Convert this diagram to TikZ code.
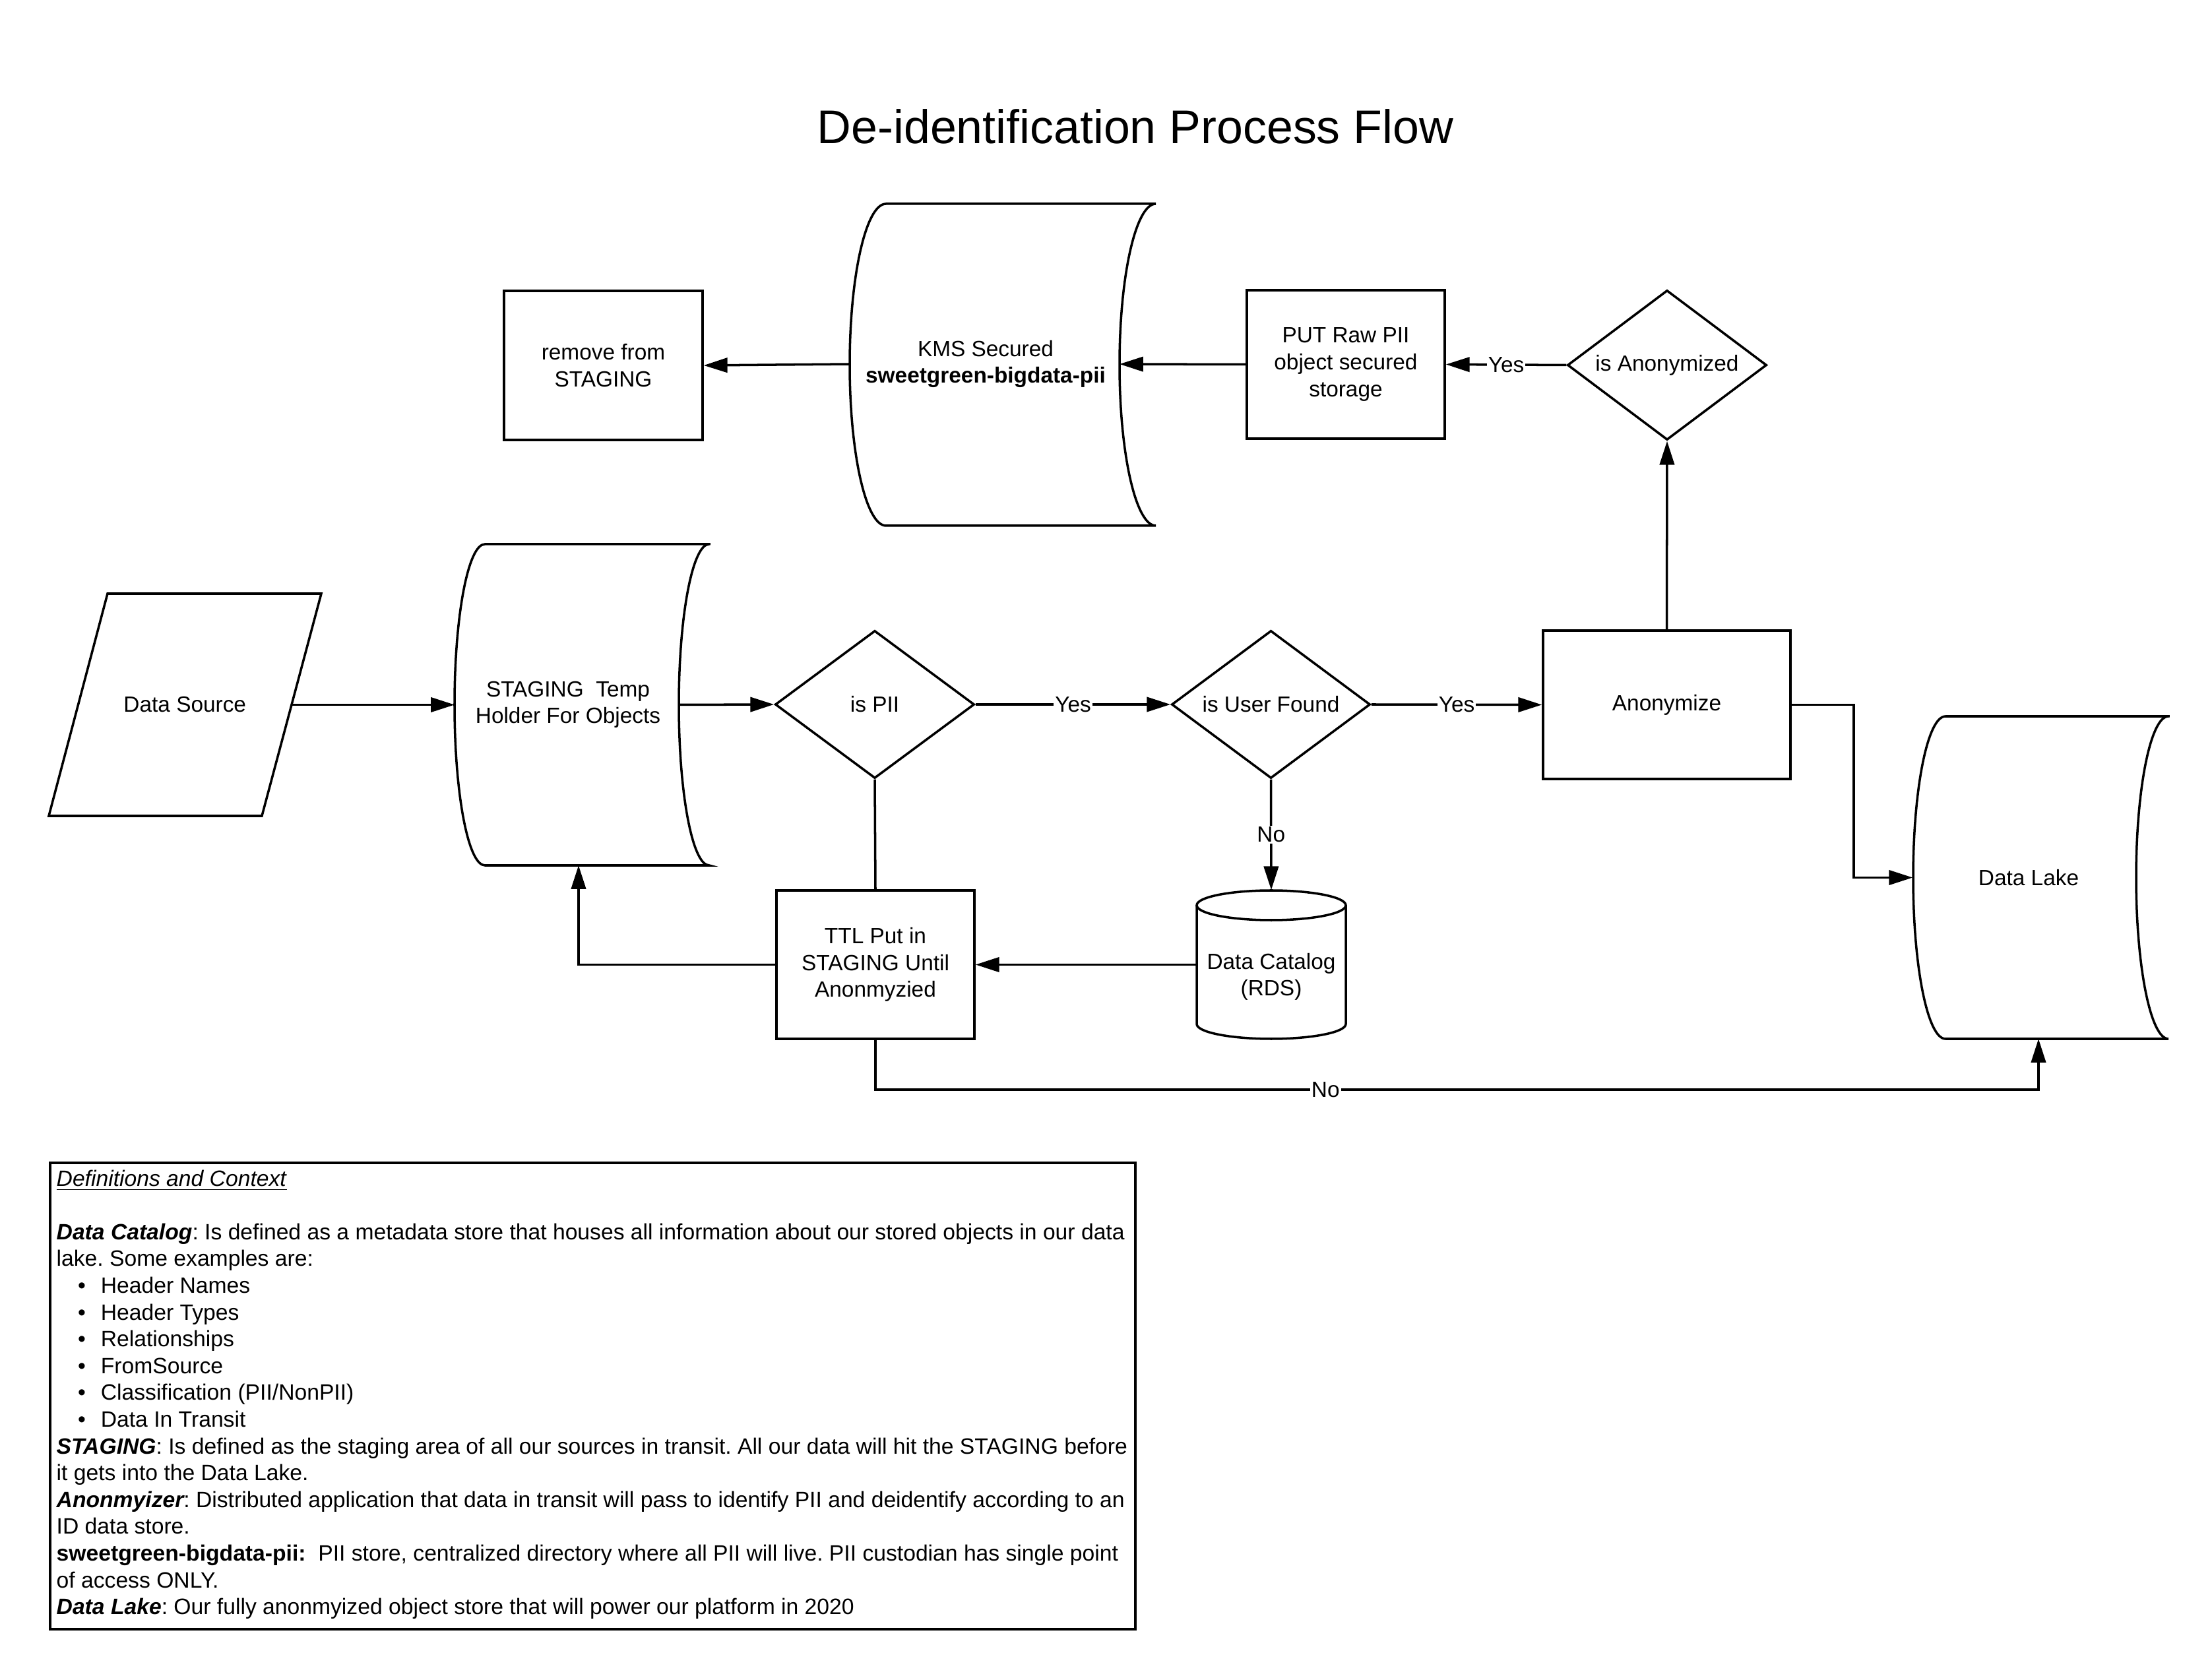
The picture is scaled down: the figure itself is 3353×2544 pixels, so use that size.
\documentclass[tikz,border=0pt]{standalone}
\usepackage{fontspec}
\setmainfont{Liberation Sans}
\usetikzlibrary{arrows.meta,shapes.geometric,calc}
\frenchspacing
\newcommand{\pxu}{0.2845pt}
\newcommand{\nf}{\fontsize{9.5}{11.55}\selectfont}
\newcommand{\boxfont}{\fontsize{9.58}{11.55}\selectfont}
\newcommand{\bitem}[1]{\hspace*{9.2pt}\makebox[9.9pt][l]{\textbullet}#1}
\newcommand{\bi}[1]{{\bfseries\itshape #1}}
\tikzset{
  lw/.style={line width=1pt},
  sz/.style 2 args={minimum width=#1*\pxu, minimum height=#2*\pxu},
  procbox/.style={lw, draw, rectangle, inner sep=0pt, align=center, font=\nf},
  decision/.style={lw, draw, diamond, aspect=1.34, inner sep=0pt, align=center, font=\nf},
  holder/.style={rectangle, draw=none, inner sep=0pt, align=center, font=\nf},
  arr/.style={lw, -{Triangle[length=10.2pt,width=6.3pt]}},
  conn/.style={lw},
  lbl/.style={fill=white, inner sep=0.6pt, font=\nf},
  outline/.style={lw, line join=miter}
}
\begin{document}
\begin{tikzpicture}[x=0.2845pt,y=-0.2845pt]
\fill[white] (0,0) rectangle (3353,2544);
\useasboundingbox (0,0) rectangle (3353,2544);

% title
\node[font=\fontsize{20.4}{24}\selectfont, anchor=base] (title) at (1721,218) {De-identification Process Flow};

% stored data outlines
\draw[outline] (1075,825) -- (735,825) arc[start angle=-90,end angle=-270,x radius=46,y radius=243.5]
  -- (1075,1312) arc[start angle=90,end angle=270,x radius=46,y radius=243.5] -- cycle;
\draw[outline] (1752,309) -- (1343,309) arc[start angle=-90,end angle=-270,x radius=55,y radius=244]
  -- (1752,797) arc[start angle=90,end angle=270,x radius=55,y radius=244] -- cycle;
\draw[outline] (3287,1086) -- (2949,1086) arc[start angle=-90,end angle=-270,x radius=49,y radius=244.5]
  -- (3287,1575) arc[start angle=90,end angle=270,x radius=49,y radius=244.5] -- cycle;

% data source parallelogram
\draw[outline] (163,900) -- (487,900) -- (397,1237) -- (74,1237) -- cycle;

% data catalog cylinder
\draw[outline] (1927,1372.5) ellipse[x radius=113,y radius=22.5];
\draw[outline] (1814,1372.5) -- (1814,1552.5) arc[start angle=180,end angle=0,x radius=113,y radius=22.5] -- (2040,1372.5);

% nodes
\node[holder, sz={323}{337}] (ds) at (280.3,1068.5) {Data Source};
\node[holder, sz={340}{487}] (stg) at (861,1068.5) {STAGING~ Temp\\Holder For Objects};
\node[holder, sz={409}{488}] (kms) at (1494,552) {KMS Secured\\\textbf{sweetgreen-bigdata-pii}};
\node[holder, sz={338}{489}] (dl) at (3069,1330.5) {};
\node[holder] (dltext) at (3075,1330.5) {Data Lake};
\node[holder, sz={226}{225}] (cat) at (1927,1462.5) {};
\node[holder] (cattext) at (1927,1481) {Data Catalog\\(RDS)};

\node[procbox, sz={301}{226}] (remove) at (914.5,554) {remove from\\STAGING};
\node[procbox, sz={300}{225}] (put) at (2040,552.5) {PUT Raw PII\\object secured\\storage};
\node[procbox, sz={375}{225}] (anon) at (2526.5,1068.5) {Anonymize};
\node[procbox, sz={300}{225}] (ttl) at (1327,1462.5) {TTL Put in\\STAGING Until\\Anonmyzied};

\node[decision, sz={302}{224}] (ispii) at (1326,1068) {is PII};
\node[decision, sz={301}{224}] (isuser) at (1926.5,1068) {is User Found};
\node[decision, sz={302}{227}] (isanon) at (2527,553.5) {is Anonymized};

\coordinate (stgin) at (877,1312);
\coordinate (dlin) at (3090,1575);
\coordinate (nb) at (1327,1652);

% connectors
\draw[arr] (ds.east) -- (stg.west -| 689,0);
\draw[arr] (stg.east -| 1029,0) -- (ispii.west);
\draw[arr] (ispii.east) -- node[lbl]{Yes} (isuser.west);
\draw[arr] (isuser.east) -- node[lbl]{Yes} (anon.west);
\draw[arr] (isuser.south) -- node[lbl]{No} (cat.north);
\draw[arr] (cat.west) -- (ttl.east);
\draw[arr] (ttl.west) -| (stgin);
\draw[conn] (ispii.south) -- (ttl.north);
\draw[arr] (ttl.south) -- (nb) -- node[lbl,pos=0.387]{No} (nb -| dlin) -- (dlin);
\draw[arr] (anon.north) -- (isanon.south);
\draw[arr] (isanon.west) -- node[lbl]{Yes} (put.east);
\draw[arr] (put.west) -- (kms.east -| 1697,0);
\draw[arr] (kms.west -| 1288,0) -- (remove.east);
\draw[arr] (anon.east) -- ++(94,0) |- (dl.west);

% definitions box
\node[lw, draw, rectangle, sz={1645}{707}, inner sep=0pt] (defbox) at (898.5,2116.5) {};
\node[anchor=north west, align=left, inner sep=0pt, font=\boxfont] (deftext) at (85,1773) {%
\underline{\textit{Definitions and Context}}\\
~\\
\bi{Data Catalog}: Is defined as a metadata store that houses all information about our stored objects in our data\\
lake. Some examples are:\\
\bitem{Header Names}\\
\bitem{Header Types}\\
\bitem{Relationships}\\
\bitem{FromSource}\\
\bitem{Classification (PII/NonPII)}\\
\bitem{Data In Transit}\\
\bi{STAGING}: Is defined as the staging area of all our sources in transit. All our data will hit the STAGING before\\
it gets into the Data Lake.\\
\bi{Anonmyizer}: Distributed application that data in transit will pass to identify PII and deidentify according to an\\
ID data store.\\
\textbf{sweetgreen-bigdata-pii:}~ PII store, centralized directory where all PII will live. PII custodian has single point\\
of access ONLY.\\
\bi{Data Lake}: Our fully anonmyized object store that will power our platform in 2020};
\end{tikzpicture}
\end{document}
